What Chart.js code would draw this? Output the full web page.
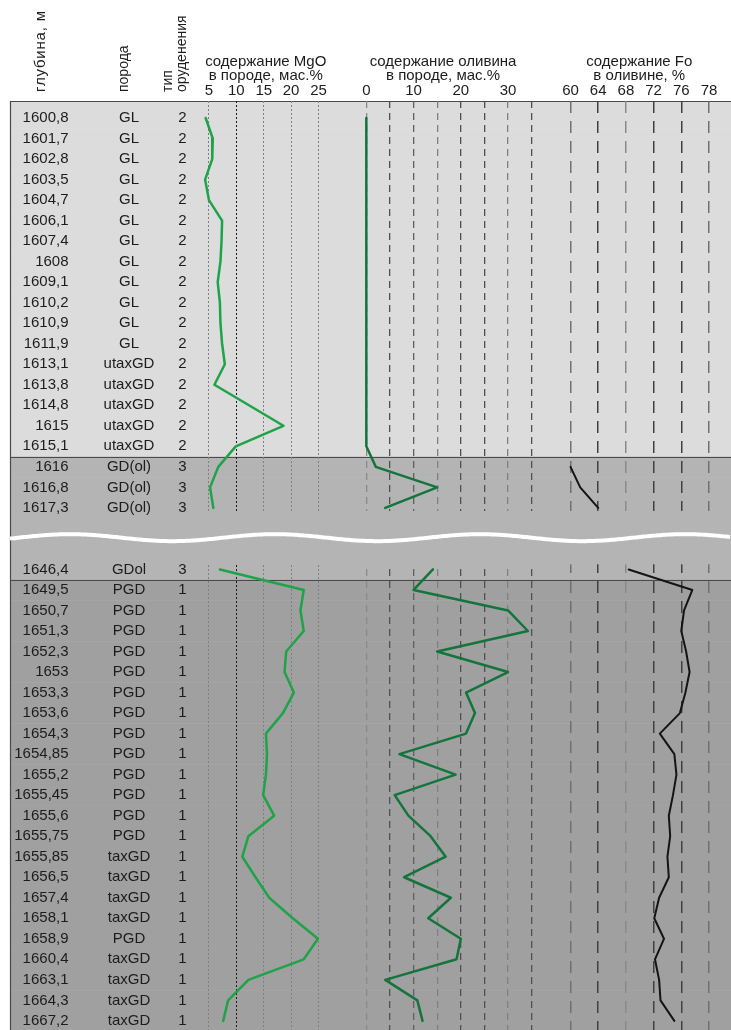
<!DOCTYPE html>
<html>
<head>
<meta charset="utf-8">
<script src="https://cdn.jsdelivr.net/npm/chart.js@4.4.1/dist/chart.umd.min.js"></script>
<style>
  html, body { margin: 0; padding: 0; background: #fff; }
  #wrap { width: 731px; height: 1030px; position: relative; }
</style>
</head>
<body>
<div id="wrap"><canvas id="log"></canvas></div>
<script>
// ---- core log: one row per sample ----
const DEPTHS = ['1600,8','1601,7','1602,8','1603,5','1604,7','1606,1','1607,4','1608','1609,1','1610,2',
  '1610,9','1611,9','1613,1','1613,8','1614,8','1615','1615,1','1616','1616,8','1617,3',
  '1646,4','1649,5','1650,7','1651,3','1652,3','1653','1653,3','1653,6','1654,3','1654,85',
  '1655,2','1655,45','1655,6','1655,75','1655,85','1656,5','1657,4','1658,1','1658,9','1660,4',
  '1663,1','1664,3','1667,2'];
const ROCKS = ['GL','GL','GL','GL','GL','GL','GL','GL','GL','GL','GL','GL',
  'utaxGD','utaxGD','utaxGD','utaxGD','utaxGD','GD(ol)','GD(ol)','GD(ol)',
  'GDol','PGD','PGD','PGD','PGD','PGD','PGD','PGD','PGD','PGD',
  'PGD','PGD','PGD','PGD','taxGD','taxGD','taxGD','taxGD','PGD','taxGD',
  'taxGD','taxGD','taxGD'];
const ORE_TYPES = [2,2,2,2,2,2,2,2,2,2,2,2,2,2,2,2,2,3,3,3,
  3,1,1,1,1,1,1,1,1,1,1,1,1,1,1,1,1,1,1,1,1,1,1];

// MgO in rock, wt.%
const MGO = [4.4,5.7,5.6,4.3,5.0,7.4,7.3,7.1,6.6,7.0,7.1,7.4,7.9,6.0,12.3,18.6,9.9,6.7,5.2,5.8,
  7.0,22.3,21.7,22.3,19.1,18.8,20.5,18.5,15.4,15.6,15.4,14.9,16.9,12.2,11.1,13.5,16.0,20.3,24.9,22.3,
  12.2,8.5,7.6];
// olivine in rock, wt.%
const OLIVINE = [0,0,0,0,0,0,0,0,0,0,0,0,0,0,0,0,0,2.0,15.0,4.0,
  14.1,10.0,30.0,34.2,15.0,30.0,21.1,23.0,21.1,7.0,18.9,6.0,8.9,13.6,16.8,8.0,17.9,13.1,20.0,19.1,
  4.0,10.8,11.9];
// forsterite in olivine, %
const FO = [null,null,null,null,null,null,null,null,null,null,null,null,null,null,null,null,null,60.0,61.4,64.0,
  68.4,77.6,76.4,76.0,76.7,77.2,76.6,75.8,72.9,75.0,75.3,74.8,74.2,74.4,74.0,74.2,72.8,72.1,73.5,72.2,
  72.8,73.0,75.0];

// axis ticks
const MGO_TICKS = [5, 10, 15, 20, 25];
const MGO_TICK_LABELS = ['5', '10', '15', '20', '25'];
const OL_TICKS = [0, 5, 10, 15, 20, 25, 30, 35];
const OL_TICK_LABELS = ['0', '', '10', '', '20', '', '30', ''];
const FO_TICKS = [60, 64, 68, 72, 76, 80];
const FO_TICK_LABELS = ['60', '64', '68', '72', '76', '78'];

// column headers of the sample table (text, x centre, font size, letter spacing)
const TABLE_HEADERS = [['глубина, м', 41, 15, 0.8], ['порода', 124, 14, 0], ['тип', 168, 14, 0], ['оруденения', 182, 14, 0]];

// ---- layout ----
const BREAK_AT = 20;        // first row after the depth break
const BREAK_SLOTS = 2;      // empty row slots reserved for the break
const GEOM = { top: 101, firstRow: 118, rowStep: 20.52, bottom: 1030, tableLeft: 10 };
const FONT = 'Liberation Sans, Arial, sans-serif';
const INK = '#1c1c1c';
const BAND = { 1: '#a0a0a0', 2: '#dcdcdc', 3: '#b4b4b4' };

const slotOf = i => (i < BREAK_AT ? i : i + BREAK_SLOTS);
const yMin = -(GEOM.firstRow - GEOM.top) / GEOM.rowStep;
const yMax = yMin + (GEOM.bottom - GEOM.top) / GEOM.rowStep;

function series(values) {
  const pts = [];
  values.forEach((v, i) => {
    if (i === BREAK_AT) pts.push({ x: null, y: slotOf(i) - 1.5 });
    pts.push({ x: v, y: slotOf(i) });
  });
  return pts;
}

function topAxis({ weight, min, max, ticks, labels, title, gridColor, gridWidth, dash }) {
  return {
    type: 'linear', position: 'top', stack: 'columns', stackWeight: weight,
    min, max,
    afterBuildTicks: s => { s.ticks = ticks.map(v => ({ value: v })); },
    afterFit: s => { s.height = GEOM.top; },
    ticks: {
      autoSkip: false, maxRotation: 0, minRotation: 0, padding: 2.5, color: INK,
      font: { family: FONT, size: 15, lineHeight: 1 },
      callback: (v, i) => labels[i]
    },
    grid: { drawTicks: false, lineWidth: gridWidth, color: c => gridColor(c.tick ? c.tick.value : 0) },
    border: { display: false, dash },
    title: {
      display: true, text: title, color: INK, align: 'center',
      font: { family: FONT, size: 15, lineHeight: '14px' },
      padding: { top: 55, bottom: 0 }
    }
  };
}

const logPlugin = {
  id: 'coreLog',
  beforeDraw(chart) {
    const { ctx, chartArea: ca, scales } = chart;
    const ys = scales.y;
    const W = chart.width;
    const px = s => ys.getPixelForValue(s);
    ctx.save();
    ctx.fillStyle = '#fff';
    ctx.fillRect(0, 0, W, chart.height);

    // row bands coloured by ore type
    const n = DEPTHS.length;
    const edges = [];
    for (let i = 0; i < n; i++) {
      const s = slotOf(i);
      const top = i === 0 ? ca.top : px((slotOf(i - 1) + s) / 2);
      const bot = i === n - 1 ? ca.bottom : px((s + slotOf(i + 1)) / 2);
      ctx.fillStyle = BAND[ORE_TYPES[i]];
      ctx.fillRect(GEOM.tableLeft, top, W - GEOM.tableLeft, bot - top + 0.5);
      if (i > 0 && ORE_TYPES[i] !== ORE_TYPES[i - 1]) edges.push(top);
    }
    ctx.strokeStyle = '#4a4a4a';
    ctx.lineWidth = 1.2;
    ctx.beginPath();
    [ca.top, ...edges].forEach(y => { ctx.moveTo(GEOM.tableLeft, Math.round(y) + 0.5); ctx.lineTo(W, Math.round(y) + 0.5); });
    ctx.moveTo(GEOM.tableLeft + 0.5, ca.top);
    ctx.lineTo(GEOM.tableLeft + 0.5, ca.bottom);
    ctx.stroke();

    // table columns
    ctx.fillStyle = INK;
    ctx.font = '15px ' + FONT;
    ctx.textBaseline = 'middle';
    for (let i = 0; i < n; i++) {
      const y = px(slotOf(i));
      ctx.textAlign = 'right';
      ctx.fillText(DEPTHS[i], 68.5, y);
      ctx.textAlign = 'center';
      ctx.fillText(ROCKS[i], 129, y);
      ctx.fillText(String(ORE_TYPES[i]), 182.5, y);
    }

    // rotated column headers
    ctx.textAlign = 'left';
    TABLE_HEADERS.forEach(([t, x, size, sp]) => {
      ctx.save();
      ctx.font = size + 'px ' + FONT;
      ctx.letterSpacing = sp + 'px';
      ctx.translate(x, 92);
      ctx.rotate(-Math.PI / 2);
      ctx.fillText(t, 0, 0);
      ctx.restore();
    });
    ctx.restore();
  },
  beforeDatasetsDraw(chart) {
    const { ctx, chartArea: ca, scales } = chart;
    const ys = scales.y;
    const gapTop = ys.getPixelForValue(BREAK_AT - 1 + 0.15);
    const gapBot = ys.getPixelForValue(BREAK_AT + BREAK_SLOTS - 0.25);
    ctx.save();
    ctx.fillStyle = BAND[ORE_TYPES[BREAK_AT]];
    ctx.fillRect(ca.left, gapTop, ca.right - ca.left, gapBot - gapTop);
    // wavy break line
    const yc = ys.getPixelForValue(BREAK_AT - 1 + (BREAK_SLOTS + 1) / 2) - 1;
    ctx.strokeStyle = '#fff';
    ctx.lineWidth = 4;
    ctx.beginPath();
    for (let x = GEOM.tableLeft; x <= chart.width; x += 2) {
      const y = yc - 3.5 * Math.cos(2 * Math.PI * (x - 70) / 205);
      if (x === GEOM.tableLeft) ctx.moveTo(x, y); else ctx.lineTo(x, y);
    }
    ctx.stroke();
    ctx.restore();
  }
};

const line = (data, color, width, axis) => ({
  data: series(data), xAxisID: axis, yAxisID: 'y',
  borderColor: color, borderWidth: width, pointRadius: 0, tension: 0, fill: false,
  spanGaps: false, borderJoinStyle: 'round', borderCapStyle: 'round'
});

// top-positioned stacked axes are laid out right-to-left in declaration order
new Chart(document.getElementById('log'), {
  type: 'line',
  data: {
    datasets: [
      line(MGO, '#1ea348', 2.5, 'mgo'),
      line(OLIVINE, '#14753c', 2.5, 'ol'),
      line(FO, '#141414', 2, 'fo')
    ]
  },
  options: {
    responsive: true, maintainAspectRatio: false, animation: false,
    layout: { padding: { left: 195, right: 0, top: 0, bottom: 0 } },
    plugins: { legend: { display: false }, tooltip: { enabled: false } },
    scales: {
      fo: topAxis({
        weight: 180, min: 56.978, max: 82.878, ticks: FO_TICKS, labels: FO_TICK_LABELS,
        title: ['содержание Fo', 'в оливине, %'],
        gridColor: v => ({ 60: '#707070', 64: '#404040', 68: '#8a8a8a', 72: '#404040', 76: '#404040', 80: '#707070' }[v] || '#505050'),
        gridWidth: 1.5, dash: [12, 8]
      }),
      ol: topAxis({
        weight: 214, min: -6.325, max: 38.794, ticks: OL_TICKS, labels: OL_TICK_LABELS,
        title: ['содержание оливина', 'в породе, мас.%'],
        gridColor: v => ({ 0: '#8a8a8a', 5: '#505050', 10: '#606060', 15: '#808080', 20: '#505050', 25: '#505050', 30: '#808080', 35: '#505050' }[v] || '#606060'),
        gridWidth: 1.3, dash: [7, 5]
      }),
      mgo: topAxis({
        weight: 142, min: 2.4545, max: 28.2727, ticks: MGO_TICKS, labels: MGO_TICK_LABELS,
        title: ['содержание MgO', 'в породе, мас.%'],
        gridColor: v => (v === 10 ? '#1a1a1a' : '#808080'), gridWidth: 1, dash: [2, 2]
      }),
      y: { type: 'linear', display: false, reverse: true, min: yMin, max: yMax }
    }
  },
  plugins: [logPlugin]
});
</script>
</body>
</html>
